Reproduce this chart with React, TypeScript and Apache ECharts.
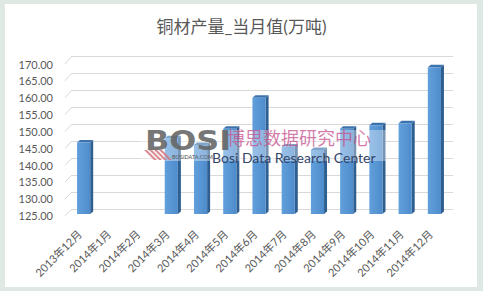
import React, { useEffect, useRef } from 'react';
import * as echarts from 'echarts';

const titleText = '铜材产量_当月值(万吨)';
const categories = [
  '2013年12月', '2014年1月', '2014年2月', '2014年3月', '2014年4月', '2014年5月', '2014年6月',
  '2014年7月', '2014年8月', '2014年9月', '2014年10月', '2014年11月', '2014年12月',
];
const values: (number | null)[] = [146.2, null, null, 147.5, 145.5, 150.3, 159.5, 145.0, 144.0, 150.3, 151.3, 151.9, 168.5];
const yMin = 125;
const yMax = 170;
const yStep = 5;

const FRONT_LEFT = 65;
const BACK_LEFT = 72;

export default function App() {
  const ref = useRef<HTMLDivElement>(null);
  useEffect(() => {
    const chart = echarts.init(ref.current as HTMLDivElement, null, { renderer: 'svg' });
    const font = 'Lato, "Noto Sans CJK SC", sans-serif';
    const barData = values.map((v, i) => [i, v]).filter((d) => d[1] != null);

    const renderItem = (_params: any, api: any) => {
      const i = api.value(0);
      const v = api.value(1);
      const top = api.coord([i, v]);
      const base = api.coord([i, yMin]);
      const w = api.size([1, 0])[0] * 0.45;
      const l = top[0] - w / 2;
      const r = top[0] + w / 2;
      const dx = 3;
      const dy = 2.5;
      return {
        type: 'group',
        children: [
          {
            type: 'polygon',
            shape: { points: [[r, top[1]], [r + dx, top[1] - dy], [r + dx, base[1] - dy], [r, base[1]]] },
            style: { fill: '#2f5f90' },
          },
          {
            type: 'polygon',
            shape: { points: [[l, top[1]], [l + dx, top[1] - dy], [r + dx, top[1] - dy], [r, top[1]]] },
            style: { fill: '#3d73ad' },
          },
          {
            type: 'rect',
            shape: { x: l, y: top[1], width: w, height: base[1] - top[1] },
            style: {
              fill: new echarts.graphic.LinearGradient(0, 0, 1, 0, [
                { offset: 0, color: '#62a0dc' },
                { offset: 1, color: '#4d8bcb' },
              ]),
            },
          },
        ],
      };
    };

    const yBase = { type: 'value', min: yMin, max: yMax, interval: yStep };

    chart.setOption({
      animation: false,
      backgroundColor: '#ffffff',
      title: {
        text: titleText,
        left: 'center',
        top: 13,
        textStyle: { fontSize: 17, color: '#595959', fontWeight: 'normal', fontFamily: font },
      },
      grid: [
        { left: 69, right: 34, top: 62.3, bottom: 77 },
        { left: FRONT_LEFT, right: 37.75, top: 64, bottom: 75.3 },
        { left: BACK_LEFT, right: 30, top: 56, bottom: 82 },
      ],
      xAxis: [
        { gridIndex: 0, type: 'category', data: categories, show: false },
        {
          gridIndex: 1,
          type: 'category',
          data: categories,
          axisLine: { show: false },
          axisTick: { show: false },
          axisLabel: { rotate: 45, margin: 16, fontSize: 11, color: '#595959', fontFamily: font, interval: 0 },
        },
        { gridIndex: 2, type: 'category', data: categories, show: false },
      ],
      yAxis: [
        { ...yBase, gridIndex: 0, show: false },
        {
          ...yBase,
          gridIndex: 1,
          axisLine: { show: false },
          axisTick: { show: false },
          splitLine: { show: false },
          axisLabel: {
            margin: 12,
            fontSize: 11,
            color: '#595959',
            fontFamily: font,
            formatter: (v: number) => v.toFixed(2),
          },
        },
        {
          ...yBase,
          gridIndex: 2,
          axisLine: { show: false },
          axisTick: { show: false },
          axisLabel: { show: false },
          splitLine: { lineStyle: { color: '#d9d9d9', width: 1 } },
        },
      ],
      series: [
        {
          type: 'custom',
          xAxisIndex: 0,
          yAxisIndex: 0,
          renderItem,
          data: barData,
          z: 5,
        },
      ],
    });

    const diag: any[] = [];
    for (let v = yMin; v <= yMax; v += yStep) {
      const yf = chart.convertToPixel({ yAxisIndex: 1 }, v) as number;
      const yb = chart.convertToPixel({ yAxisIndex: 2 }, v) as number;
      diag.push({
        type: 'line',
        z: 1,
        shape: { x1: FRONT_LEFT, y1: yf, x2: BACK_LEFT, y2: yb },
        style: { stroke: '#d9d9d9', lineWidth: 1 },
      });
    }

    const stripes: any[] = [];
    for (let k = 0; k < 4; k++) {
      stripes.push({
        type: 'polygon',
        z: 100,
        shape: { points: [[144 + k * 5, 150], [147 + k * 5, 150], [157 + k * 5, 160], [154 + k * 5, 160]] },
        style: { fill: 'rgba(214,120,128,0.85)' },
      });
    }

    chart.setOption({
      graphic: [
        { type: 'rect', z: -20, silent: true, shape: { x: 0, y: 0, width: 483, height: 291 }, style: { fill: '#dfe8e2' } },
        { type: 'rect', z: -19, silent: true, shape: { x: 5, y: 4, width: 472, height: 283 }, style: { fill: '#ffffff' } },
        ...diag,
        { type: 'rect', z: 99, shape: { x: 140, y: 130, width: 246, height: 31 }, style: { fill: 'rgba(255,255,255,0.35)' } },
        {
          type: 'text', z: 100, x: 145, y: 127, scaleX: 1.18,
          style: { text: 'BOSI', fontSize: 27, fontWeight: 'bold', fontFamily: '"DejaVu Sans", sans-serif', fill: 'rgba(100,100,100,0.9)' },
        },
        ...stripes,
        {
          type: 'text', z: 100, x: 172, y: 154,
          style: { text: 'BOSIDATA.COM', fontSize: 5.5, fontFamily: 'Lato, sans-serif', fill: '#555555' },
        },
        {
          type: 'text', z: 100, x: 227, y: 128,
          style: { text: '博思数据研究中心', fontSize: 18, fontFamily: '"Noto Sans CJK SC", sans-serif', fill: 'rgba(196,80,140,0.75)' },
        },
        {
          type: 'text', z: 100, x: 212, y: 150,
          style: { text: 'Bosi Data Research Center', fontSize: 14, fontFamily: 'Lato, sans-serif', fill: '#34466a' },
        },
      ],
    });

    return () => chart.dispose();
  }, []);
  return <div ref={ref} style={{ position: 'fixed', left: 0, top: 0, width: 483, height: 291 }} />;
}
